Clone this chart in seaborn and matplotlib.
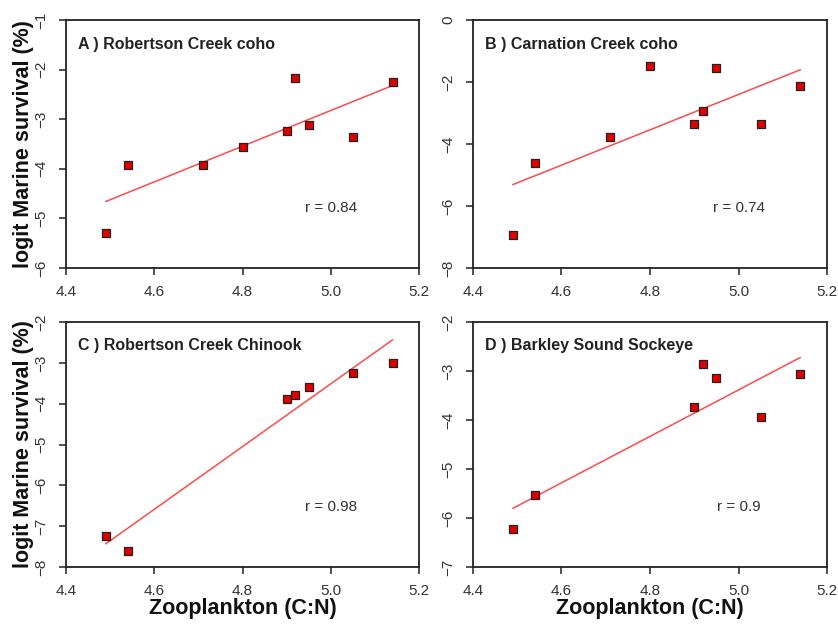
import seaborn as sns
import pandas as pd
import matplotlib
matplotlib.use("Agg")
import matplotlib.pyplot as plt

# valores
zoo_cn_coho = [4.49, 4.54, 4.71, 4.80, 4.90, 4.92, 4.95, 5.05, 5.14]
robertson_coho = [-5.30, -3.92, -3.93, -3.56, -3.23, -2.17, -3.11, -3.36, -2.24]
carnation_coho = [-6.94, -4.61, -3.78, -1.47, -3.37, -2.95, -1.55, -3.37, -2.13]

zoo_cn_outros = [4.49, 4.54, 4.90, 4.92, 4.95, 5.05, 5.14]
robertson_chinook = [-7.25, -7.62, -3.88, -3.78, -3.58, -3.25, -3.00]
barkley_sockeye = [-6.22, -5.53, -3.74, -2.85, -3.15, -3.94, -3.06]

titulos = ["A ) Robertson Creek coho", "B ) Carnation Creek coho",
           "C ) Robertson Creek Chinook", "D ) Barkley Sound Sockeye"]
r_textos = ["r = 0.84", "r = 0.74", "r = 0.98", "r = 0.9"]
y_limites = [(-6, -1), (-8, 0), (-8, -2), (-7, -2)]
y_passos = [1, 2, 1, 1]
x_ticks = [4.4, 4.6, 4.8, 5.0, 5.2]

sns.set_style("ticks")
plt.rcParams["font.family"] = ["Liberation Sans", "DejaVu Sans"]

fig = plt.figure(figsize=(8.38, 6.24), dpi=100)
W, H = 838, 624
caixas = [(66, 20, 419, 268), (473, 20, 827, 268),
          (66, 322, 419, 567), (473, 322, 827, 567)]

dados = [
    pd.DataFrame({"cn": zoo_cn_coho, "surv": robertson_coho}),
    pd.DataFrame({"cn": zoo_cn_coho, "surv": carnation_coho}),
    pd.DataFrame({"cn": zoo_cn_outros, "surv": robertson_chinook}),
    pd.DataFrame({"cn": zoo_cn_outros, "surv": barkley_sockeye}),
]

for i, df in enumerate(dados):
    l, t, r, b = caixas[i]
    ax = fig.add_axes([l / W, 1 - b / H, (r - l) / W, (b - t) / H])
    # linha de regressão
    sns.regplot(data=df, x="cn", y="surv", scatter=False, ci=None, ax=ax,
                line_kws={"color": "#ff4a4a", "lw": 1.1})
    # pontos
    sns.scatterplot(data=df, x="cn", y="surv", ax=ax, marker="s", s=38,
                    color="#e00000", edgecolor="#222222", linewidth=0.9, zorder=3)
    ymin, ymax = y_limites[i]
    ax.set_xlim(4.4, 5.2)
    ax.set_ylim(ymin, ymax)
    ax.set_xticks(x_ticks)
    ax.set_xticklabels([f"{v:.1f}" for v in x_ticks])
    yt = list(range(ymin, ymax + 1, y_passos[i]))
    ax.set_yticks(yt)
    ax.set_yticklabels([str(v).replace("-", "\u2212") for v in yt],
                       rotation=90, va="center")
    ax.tick_params(axis="both", direction="out", length=5, width=1.2,
                   labelsize=11, colors="#333333")
    ax.tick_params(axis="x", pad=7)
    ax.tick_params(axis="y", pad=8)
    for sp in ax.spines.values():
        sp.set_visible(True)
        sp.set_linewidth(1.3)
        sp.set_color("#222222")
    ax.text(0.034, 0.903, titulos[i], transform=ax.transAxes, fontsize=11.5,
            fontweight="bold", color="#222222", ha="left", va="center")
    ax.text(0.75, 0.243, r_textos[i], transform=ax.transAxes, fontsize=11,
            color="#333333", ha="center", va="center")
    ax.set_xlabel("")
    ax.set_ylabel("")
    if i % 2 == 0:
        ax.set_ylabel("logit Marine survival (%)", fontsize=15.5,
                      fontweight="bold", color="#111111", labelpad=0)
    if i >= 2:
        ax.set_xlabel("Zooplankton (C:N)", fontsize=15.5, fontweight="bold",
                      color="#111111", labelpad=0)

fig.savefig("out.png", dpi=100)
